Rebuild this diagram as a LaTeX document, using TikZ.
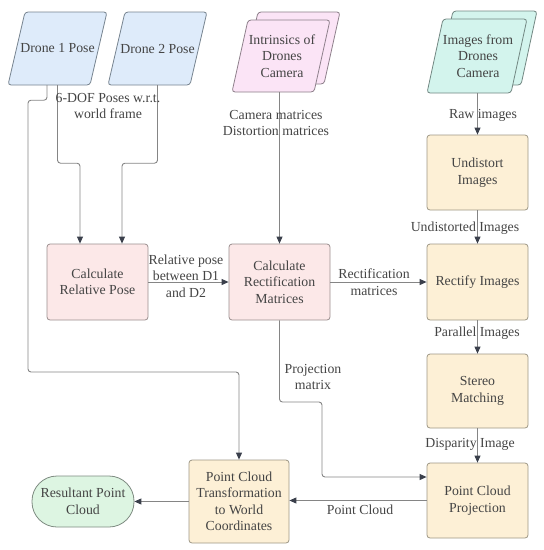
\documentclass[tikz,border=0pt]{standalone}
\usepackage{fontspec}
\setmainfont{Liberation Serif}
\usetikzlibrary{arrows.meta,backgrounds}
\definecolor{txt}{HTML}{444444}
\definecolor{linec}{HTML}{858585}
\definecolor{tipc}{HTML}{3A3F4B}
\definecolor{bluef}{HTML}{DEEBFA}
\definecolor{blued}{HTML}{76838F}
\definecolor{pinkf}{HTML}{FBE4F6}
\definecolor{pinkd}{HTML}{8C7E89}
\definecolor{tealf}{HTML}{D3F4ED}
\definecolor{teald}{HTML}{728782}
\definecolor{redf}{HTML}{FCE8E8}
\definecolor{redd}{HTML}{9A8E8E}
\definecolor{orf}{HTML}{FDF0D6}
\definecolor{ord}{HTML}{9E9785}
\definecolor{grf}{HTML}{DDF5E2}
\definecolor{grd}{HTML}{7E8B81}
\begin{document}
\begin{tikzpicture}[x=1pt,y=-1pt,
  every node/.style={text=txt,font=\fontsize{13.8}{16.5}\selectfont,align=center},
  procbox/.style={draw=#1,line width=0.8pt,rounded corners=3pt,minimum width=101pt,minimum height=76pt,inner sep=1pt},
  para/.style={line width=0.8pt,rounded corners=3pt},
  conn/.style={draw=linec,line width=0.9pt,rounded corners=3pt,-{Triangle[length=7pt,width=6pt,color=tipc]}},
  lbl/.style={inner sep=0pt}]
\path[use as bounding box] (0,0) rectangle (544,550);
% parallelograms (inputs)
\draw[para,fill=bluef,draw=blued] (25,12) -- (107,12) -- (90,85) -- (8,85) -- cycle;
\draw[para,fill=bluef,draw=blued] (125,12) -- (207,12) -- (190,85) -- (108,85) -- cycle;
\draw[para,fill=pinkf,draw=pinkd] (258,12) -- (340,12) -- (324,84) -- (242,84) -- cycle;
\draw[para,fill=pinkf,draw=pinkd] (248,20) -- (330,20) -- (314,92) -- (232,92) -- cycle;
\draw[para,fill=tealf,draw=teald] (453,11) -- (537,11) -- (521,85) -- (437,85) -- cycle;
\draw[para,fill=tealf,draw=teald] (443,19) -- (527,19) -- (511,93) -- (427,93) -- cycle;
\node[minimum width=99pt,minimum height=73pt,inner sep=0pt] (d1) at (57.5,48.5) {Drone 1 Pose};
\node[minimum width=99pt,minimum height=73pt,inner sep=0pt] (d2) at (157.5,48.5) {Drone 2 Pose};
\node[minimum width=98pt,minimum height=72pt,inner sep=0pt] (intr) at (282,56) {Intrinsics of\\Drones\\Camera};
\node[minimum width=100pt,minimum height=74pt,inner sep=0pt] (imgs) at (478,56) {Images from\\Drones\\Camera};
% process boxes
\node[procbox=redd,fill=redf] (crp) at (97.5,282) {Calculate\\Relative Pose};
\node[procbox=redd,fill=redf] (crm) at (279.5,282) {Calculate\\Rectification\\Matrices};
\node[procbox=ord,fill=orf,minimum height=75pt] (und) at (477.5,172.5) {Undistort\\Images};
\node[procbox=ord,fill=orf] (rect) at (477.5,282) {Rectify Images};
\node[procbox=ord,fill=orf,minimum height=74pt] (st) at (477.5,391) {Stereo\\Matching};
\node[procbox=ord,fill=orf,minimum height=75pt] (pcp) at (477.5,500.5) {Point Cloud\\Projection};
\node[procbox=ord,fill=orf,minimum width=100pt,minimum height=83pt] (pct) at (239,501.5) {Point Cloud\\Transformation\\to World\\Coordinates};
\node[draw=grd,fill=grf,line width=0.8pt,rounded corners=25pt,minimum width=102pt,minimum height=51pt,inner sep=1pt] (res) at (83,501.5) {Resultant Point\\Cloud};
% connectors
\draw[conn] ([xshift=-10.5pt]d1.south) -- ++(0,15) -| (28,372) -| (pct.north);
\draw[conn] (d1.south) -- ++(0,78) -| ([xshift=-17.5pt]crp.north);
\draw[conn] (d2.south) -- ++(0,78) -| ([xshift=24.5pt]crp.north);
\draw[conn] (crm.north |- intr.south) -- (crm.north);
\draw[conn] (und.north |- imgs.south) -- (und.north);
\draw[conn] (und.south) -- (rect.north);
\draw[conn] (rect.south) -- (st.north);
\draw[conn] (st.south) -- (pcp.north);
\draw[conn] (crp.east) -- (crm.west);
\draw[conn] (crm.east) -- (rect.west);
\draw[conn] (crm.south) |- (322,402) |- ([yshift=23.5pt]pcp.west);
\draw[conn] (pcp.west) -- (pcp.west -| pct.east);
\draw[conn] (pct.west) -- (res.east);
% labels
\node[lbl] (l1) at (108,106) {6-DOF Poses w.r.t.\\world frame};
\node[lbl] (l2) at (276,123) {Camera matrices\\Distortion matrices};
\node[lbl] (l3) at (483,115) {Raw images};
\node[lbl] (l4) at (465,228) {Undistorted Images};
\node[lbl] (l5) at (186,276) {Relative pose\\between D1\\and D2};
\node[lbl] (l6) at (374,282) {Rectification\\matrices};
\node[lbl] (l7) at (477,333) {Parallel Images};
\node[lbl] (l8) at (313,377) {Projection\\matrix};
\node[lbl] (l9) at (470,444) {Disparity Image};
\node[lbl] (l10) at (360,510) {Point Cloud};
\end{tikzpicture}
\end{document}
